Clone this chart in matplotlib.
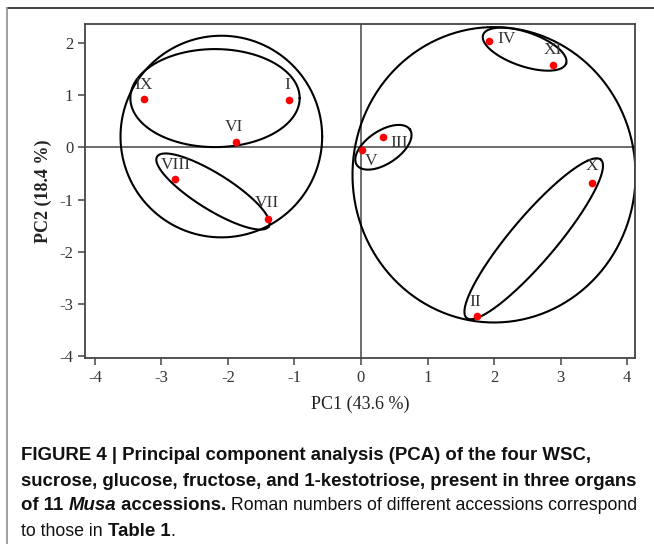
import numpy as np
import matplotlib.pyplot as plt
from matplotlib.lines import Line2D

plt.rcParams['axes.unicode_minus'] = False

# accessions and their PCA scores
accessions = ['I', 'II', 'III', 'IV', 'V', 'VI', 'VII', 'VIII', 'IX', 'X', 'XI']
pc1 = [-1.09, 1.74, 0.33, 1.92, 0.01, -1.88, -1.40, -2.79, -3.27, 3.47, 2.89]
pc2 = [0.91, -3.24, 0.21, 2.05, -0.05, 0.10, -1.37, -0.60, 0.93, -0.68, 1.59]

xticks = [-4, -3, -2, -1, 0, 1, 2, 3, 4]
yticks = [-4, -3, -2, -1, 0, 1, 2]

# label offsets in points
offsets = {'I': (-0.7, 10.8), 'II': (-1.2, 10), 'III': (11.5, -4.8), 'IV': (13, 1),
           'V': (6.5, -7.5), 'VI': (-1.4, 11.2), 'VII': (-0.7, 11.5), 'VIII': (0, 10),
           'IX': (0, 10), 'X': (0, 12), 'XI': (0, 10.6)}

# cluster ellipses: centre x, centre y, semi axes (x units), angle on screen
groups = [(-2.10, 0.21, 1.516, 1.516, 0),
          (-2.195, 0.948, 1.273, 0.737, 0),
          (-2.226, -0.845, 0.99, 0.27, -32),
          (2.46, 1.887, 0.66, 0.256, -19),
          (0.337, 0.004, 0.48, 0.248, 33.6),
          (2.597, -1.752, 1.56, 0.34, 49.7),
          (2.0, -0.524, 2.128, 2.221, 0)]

W, H = 654, 544
fig = plt.figure(figsize=(W / 100, H / 100), dpi=100)
ax = fig.add_axes([85 / W, 1 - 358 / H, 550 / W, 334 / H])
xlim = (-4.15, 4.12)
ylim = (-4.04, 2.37)
ax.set_xlim(xlim)
ax.set_ylim(ylim)

serif = 'Liberation Serif'
grey = '#444444'

ax.axhline(0, color=grey, lw=1.1, zorder=1)
ax.axvline(0, color=grey, lw=1.1, zorder=1)

# screen aspect: pixels per y unit / pixels per x unit
k = (334 / (ylim[1] - ylim[0])) / (550 / (xlim[1] - xlim[0]))
t = np.linspace(0, 2 * np.pi, 400)
for cx, cy, a, b, ang in groups:
    th = np.radians(ang)
    u = a * np.cos(t)
    v = b * np.sin(t)
    ex = cx + u * np.cos(th) - v * np.sin(th)
    ey = cy + (u * np.sin(th) + v * np.cos(th)) / k
    ax.plot(ex, ey, color='black', lw=1.5, zorder=2)

ax.plot(pc1, pc2, 'o', color='#ff0000', ms=5.5, mec='none', zorder=3)
for name, x, y in zip(accessions, pc1, pc2):
    ax.annotate(name, (x, y), xytext=offsets[name], textcoords='offset points',
                ha='center', va='center', fontsize=12.5, family=serif, color='#333333')

ax.set_xticks(xticks)
ax.set_yticks(yticks)
ax.tick_params(direction='out', length=5, width=1.1, color=grey, labelsize=12,
               labelcolor='#333333')
for lab in ax.get_xticklabels() + ax.get_yticklabels():
    lab.set_family(serif)
for sp in ax.spines.values():
    sp.set_color(grey)
    sp.set_linewidth(1.3)

ax.set_xlabel('PC1 (43.6 %)', family=serif, fontsize=13, color='#222222', labelpad=7)
ax.set_ylabel('PC2 (18.4 %)', family=serif, fontsize=13, fontweight='bold',
              color='#222222', labelpad=5)

# frame of the figure panel
fig.add_artist(Line2D([7 / W, 1], [1 - 8 / H, 1 - 8 / H], color='#333333', lw=1.3))
fig.add_artist(Line2D([7 / W, 7 / W], [0, 1 - 8 / H], color='#999999', lw=1.3))

# caption with mixed weights
cap_lines = [
    [('FIGURE 4 | Principal component analysis (PCA) of the four WSC,', 'bold', 'normal')],
    [('sucrose, glucose, fructose, and 1-kestotriose, present in three organs', 'bold', 'normal')],
    [('of 11 ', 'bold', 'normal'), ('Musa', 'bold', 'italic'), (' accessions.', 'bold', 'normal'),
     (' Roman numbers of different accessions correspond', 'normal', 'normal')],
    [('to those in ', 'normal', 'normal'), ('Table 1', 'bold', 'normal'), ('.', 'normal', 'normal')],
]
cap_font = 'Liberation Sans'
cap_size = {'bold': 13.4, 'normal': 12.8}
fig.canvas.draw()
r = fig.canvas.get_renderer()


def width_of(s, weight, style):
    tx = fig.text(0, 0, s, family=cap_font, fontsize=cap_size[weight], fontweight=weight,
                  fontstyle=style)
    w = tx.get_window_extent(r).width
    tx.remove()
    return w


for i, line in enumerate(cap_lines):
    y = 456 + 25 * i
    x = 21
    for s, weight, style in line:
        fig.text(x / W, 1 - y / H, s, family=cap_font, fontsize=cap_size[weight],
                 fontweight=weight, fontstyle=style, va='center', ha='left', color='#111111')
        # measure with a guard char so trailing spaces count
        x += width_of(s + '|', weight, style) - width_of('|', weight, style)

fig.savefig('out.png', dpi=100)
